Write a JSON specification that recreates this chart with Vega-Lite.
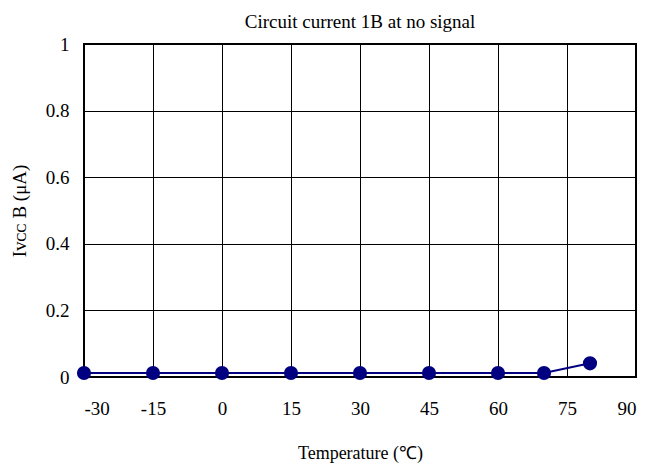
{
  "$schema": "https://vega.github.io/schema/vega-lite/v6.json",
  "width": 552,
  "height": 333,
  "autosize": {"type": "none"},
  "padding": {"left": 84, "top": 44, "right": 11, "bottom": 93},
  "background": "white",
  "title": {
    "text": "Circuit current 1B at no signal",
    "font": "Liberation Serif",
    "fontSize": 19,
    "fontWeight": "normal",
    "color": "black",
    "offset": 3
  },
  "config": {
    "view": {"stroke": "black", "strokeWidth": 2},
    "style": {"guide-label": {"font": "Liberation Serif", "fontWeight": "normal"}, "guide-title": {"font": "Liberation Serif", "fontWeight": "normal"}}
  },
  "data": {
    "values": [
      {"temp": -30, "current": 0.012},
      {"temp": -15, "current": 0.012},
      {"temp": 0, "current": 0.012},
      {"temp": 15, "current": 0.012},
      {"temp": 30, "current": 0.012},
      {"temp": 45, "current": 0.012},
      {"temp": 60, "current": 0.012},
      {"temp": 70, "current": 0.012},
      {"temp": 80, "current": 0.041}
    ]
  },
  "encoding": {
    "x": {
      "field": "temp",
      "type": "quantitative",
      "scale": {"domain": [-30, 90], "nice": false},
      "axis": {
        "values": [-30, -15, 0, 15, 30, 45, 60, 75, 90],
        "labelExpr": "replace(datum.label, '−', '-')",
        "labelFont": "Liberation Serif",
        "labelFontSize": 19,
        "labelFontWeight": 400,
        "labelColor": "black",
        "labelPadding": 22,
        "title": "Temperature (℃)",
        "titleFont": "Liberation Serif",
        "titleFontSize": 18,
        "titleFontWeight": "normal",
        "titleColor": "black",
        "titlePadding": 26,
        "gridColor": "black",
        "gridOpacity": 1,
        "gridWidth": 1,
        "domain": false,
        "ticks": false
      }
    },
    "y": {
      "field": "current",
      "type": "quantitative",
      "scale": {"domain": [0, 1], "nice": false},
      "axis": {
        "values": [0, 0.2, 0.4, 0.6, 0.8, 1],
        "format": "~g",
        "labelFont": "Liberation Serif",
        "labelFontSize": 19,
        "labelFontWeight": 400,
        "labelColor": "black",
        "labelPadding": 15,
        "title": "Iᴠᴄᴄ B (μA)",
        "titleFont": "Liberation Serif",
        "titleFontSize": 19,
        "titleFontWeight": "normal",
        "titleColor": "black",
        "titlePadding": 16,
        "gridColor": "black",
        "gridOpacity": 1,
        "gridWidth": 1,
        "domain": false,
        "ticks": false
      }
    }
  },
  "layer": [
    {"mark": {"type": "line", "color": "#000080", "strokeWidth": 2}},
    {"mark": {"type": "point", "filled": true, "color": "#000080", "opacity": 1, "size": 200}}
  ]
}
